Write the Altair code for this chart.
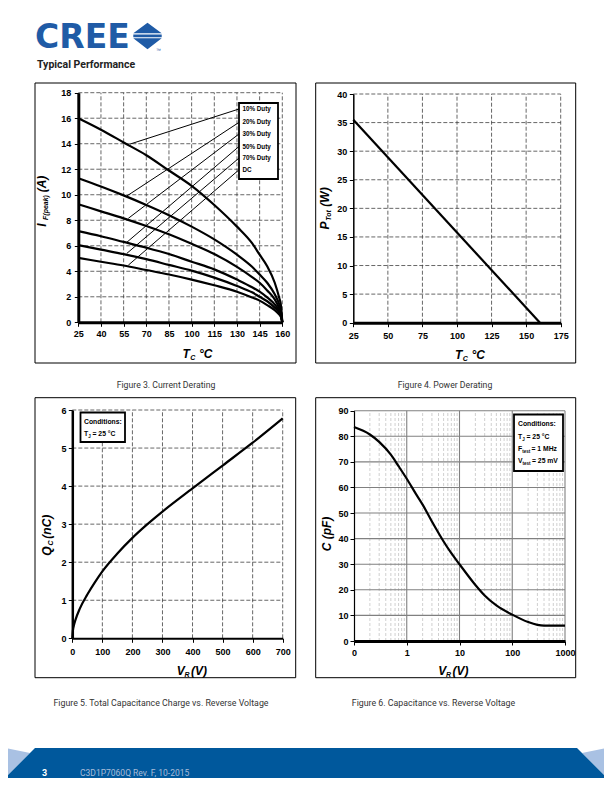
import altair as alt
import pandas as pd

# ---------------- data ----------------
# Figure 3: current derating
f3_tc = [25, 40, 55, 70, 85, 100, 115, 130, 140, 145, 150, 155, 158, 159, 160]
f3_i10 = [16.0, 15.1, 14.1, 13.1, 11.9, 10.7, 9.2, 7.5, 6.2, 5.3, 4.4, 3.1, 1.9, 1.4, 0.0]
f3_i20 = [11.3, 10.65, 9.95, 9.2, 8.4, 7.5, 6.5, 5.3, 4.35, 3.75, 3.1, 2.2, 1.4, 1.0, 0.0]
f3_i30 = [9.25, 8.7, 8.15, 7.55, 6.9, 6.15, 5.35, 4.35, 3.55, 3.1, 2.5, 1.8, 1.1, 0.8, 0.0]
f3_i50 = [7.15, 6.75, 6.3, 5.85, 5.35, 4.75, 4.15, 3.35, 2.75, 2.4, 1.95, 1.4, 0.9, 0.6, 0.0]
f3_i70 = [6.05, 5.7, 5.35, 4.95, 4.5, 4.05, 3.5, 2.85, 2.35, 2.0, 1.65, 1.15, 0.75, 0.5, 0.0]
f3_idc = [5.05, 4.75, 4.45, 4.1, 3.75, 3.35, 2.9, 2.4, 1.95, 1.7, 1.35, 0.95, 0.6, 0.45, 0.0]
f3_labels = ["10% Duty", "20% Duty", "30% Duty", "50% Duty", "70% Duty", "DC"]
f3_lead_t0 = [59.2, 57.1, 58.1, 57.1, 57.1, 58.1]
f3_lead_i0 = [13.97, 9.9, 8.15, 6.27, 5.4, 4.48]
f3_lead_t1 = 131.3
f3_lead_i1 = [16.72, 15.67, 14.76, 13.78, 12.87, 11.95]
f3_xticks = [25, 40, 55, 70, 85, 100, 115, 130, 145, 160]
f3_yticks = [0, 2, 4, 6, 8, 10, 12, 14, 16, 18]

# Figure 4: power derating
f4_tc = [25, 160]
f4_p = [35.5, 0.0]
f4_xticks = [25, 50, 75, 100, 125, 150, 175]
f4_yticks = [0, 5, 10, 15, 20, 25, 30, 35, 40]

# Figure 5: total capacitance charge
f5_vr = [0, 2, 5, 10, 25, 50, 75, 100, 150, 200, 250, 300, 400, 500, 600, 700]
f5_qc = [0, 0.2, 0.33, 0.47, 0.78, 1.15, 1.47, 1.76, 2.23, 2.64, 3.0, 3.33, 3.94, 4.54, 5.14, 5.78]
f5_xticks = [0, 100, 200, 300, 400, 500, 600, 700]
f5_yticks = [0, 1, 2, 3, 4, 5, 6]

# Figure 6: capacitance vs reverse voltage
f6_vr = [0.1, 0.2, 0.3, 0.5, 0.7, 1, 1.5, 2, 3, 5, 7, 10, 20, 30, 50, 100, 200, 300, 400, 600, 1000]
f6_c = [83.6, 80.7, 77.8, 72.8, 68.3, 63.4, 57.4, 53.3, 46.7, 38.9, 34.3, 30.0, 21.9, 17.8, 13.9,
        10.3, 7.4, 6.3, 6.0, 6.0, 6.0]
f6_xticks = [0.1, 1, 10, 100, 1000]
f6_minor = [0.2, 0.3, 0.4, 0.5, 0.6, 0.7, 0.8, 0.9, 2, 3, 4, 5, 6, 7, 8, 9,
            20, 30, 40, 50, 60, 70, 80, 90, 200, 300, 400, 500, 600, 700, 800, 900]
f6_yticks = [0, 10, 20, 30, 40, 50, 60, 70, 80, 90]

# ---------------- layout helpers ----------------
W, H = 596, 770
OFF = 8
LF = "Liberation Sans, Arial, sans-serif"
TF = "Liberation Sans, Arial, sans-serif"
CF = "Roboto, sans-serif"
BLUE = "#1f5ba6"
GRID = "#404040"

one = pd.DataFrame({"k": [0]})
layers = []


def px(v):
    return v - OFF


def txt(s, x, y, size=10, weight="normal", style="normal", align="left", angle=0,
        font=TF, color="black", baseline="alphabetic"):
    return alt.Chart(one).mark_text(
        text=s, fontSize=size, fontWeight=weight, fontStyle=style, align=align,
        angle=angle, font=font, color=color, baseline=baseline
    ).encode(x=alt.value(px(x)), y=alt.value(px(y)))


def box(x0, y0, x1, y1, sw=1.0, fill="white", fo=1.0):
    return alt.Chart(one).mark_rect(
        fill=fill, fillOpacity=fo, stroke="black", strokeWidth=sw
    ).encode(x=alt.value(px(x0)), x2=alt.value(px(x1)), y=alt.value(px(y0)), y2=alt.value(px(y1)))


def poly(path, color):
    return alt.Chart(one).mark_point(
        shape=path, size=4, filled=True, color=color, fill=color, fillOpacity=1,
        strokeWidth=0, opacity=1
    ).encode(x=alt.value(0), y=alt.value(0))


def lin(dom, a, b):
    return alt.Scale(type="linear", domain=dom, range=[px(a), px(b)], nice=False, zero=False)


def axis(orient, pos, values, dw, pad, fmt=None):
    kw = dict(orient=orient, values=values, grid=False, title=None, domainColor="black",
              domainWidth=dw, tickColor="black", tickSize=4, tickWidth=1, labelFont=LF,
              labelFontSize=9, labelFontWeight="bold", labelColor="black", labelPadding=pad,
              labelFlush=False, labelOverlap=False, zindex=1)
    if orient == "bottom":
        kw["offset"] = px(pos) - H
    else:
        kw["offset"] = -px(pos)
    if fmt:
        kw["format"] = fmt
    return alt.Axis(**kw)


def grid_df(xs, ys, xr, yr):
    rows = [dict(x=v, x2=v, y=yr[0], y2=yr[1]) for v in xs]
    rows += [dict(x=xr[0], x2=xr[1], y=v, y2=v) for v in ys]
    return pd.DataFrame(rows)


# ---------------- header ----------------
layers.append(txt("CREE", 35, 48.3, size=33, weight="bold", font="DejaVu Sans", color=BLUE))
layers.append(poly(
    "M125.3,25.3L153.7,25.3L139.5,14.7Z"
    "M125.3,26.4L153.7,26.4L153.7,29.2L125.3,29.2Z"
    "M125.3,30.3L153.7,30.3L139.5,41.3Z", BLUE))
layers.append(txt("\u2122", 156, 52, size=5, color=BLUE))
layers.append(txt("Typical Performance", 37, 68, size=10.5, weight="bold", font=CF, color="#222222"))

# ---------------- frames ----------------
layers.append(box(35, 83, 296, 363, sw=1, fo=0))
layers.append(box(315.7, 83, 575.7, 363, sw=1, fo=0))
layers.append(box(35, 397.7, 295.7, 677.7, sw=1, fo=0))
layers.append(box(315.7, 397.7, 575.7, 677.7, sw=1, fo=0))

# ---------------- Figure 3 ----------------
S1x = lin([25, 160], 78.3, 282.3)
S1y = lin([0, 18], 322.3, 92.7)
layers.append(alt.Chart(grid_df(f3_xticks[1:], f3_yticks[1:], [25, 160], [0, 18])).mark_rule(
    color=GRID, strokeWidth=0.8, strokeDash=[4, 2]).encode(
    x=alt.X("x:Q", scale=S1x, axis=axis("bottom", 322.3, f3_xticks, 3, 3.5)),
    x2="x2:Q",
    y=alt.Y("y:Q", scale=S1y, axis=axis("left", 78.3, f3_yticks, 3, 3.5)),
    y2="y2:Q"))
series = [f3_i10, f3_i20, f3_i30, f3_i50, f3_i70, f3_idc]
df3 = pd.DataFrame({
    "tc": [t for _ in series for t in f3_tc],
    "i": [v for s in series for v in s],
    "s": [lab for lab in f3_labels for _ in f3_tc],
})
layers.append(alt.Chart(df3).mark_line(color="black", strokeWidth=2.2, interpolate="monotone").encode(
    x=alt.X("tc:Q", scale=S1x, axis=None), y=alt.Y("i:Q", scale=S1y, axis=None), detail="s:N"))
lead = pd.DataFrame({"x": f3_lead_t0, "y": f3_lead_i0, "x2": [f3_lead_t1] * 6, "y2": f3_lead_i1})
layers.append(alt.Chart(lead).mark_rule(color="black", strokeWidth=1).encode(
    x=alt.X("x:Q", scale=S1x, axis=None), x2="x2:Q",
    y=alt.Y("y:Q", scale=S1y, axis=None), y2="y2:Q"))
layers.append(box(239, 103, 278, 179, sw=1.8))
leg = pd.DataFrame({"t": [133.6] * 6, "i": f3_lead_i1, "lab": f3_labels})
layers.append(alt.Chart(leg).mark_text(font=LF, fontSize=6.3, fontWeight="bold", align="left",
                                       baseline="middle", color="black").encode(
    x=alt.X("t:Q", scale=S1x, axis=None), y=alt.Y("i:Q", scale=S1y, axis=None), text="lab:N"))
# axis titles
layers.append(txt("T", 182.5, 357.5, size=12, weight="bold", style="italic"))
layers.append(txt("C", 190.3, 359.5, size=7, weight="bold", style="italic"))
layers.append(txt("\u00b0C", 199, 357.5, size=12, weight="bold", style="italic"))
layers.append(txt("I", 45.5, 225, size=12, weight="bold", style="italic", align="center", angle=270))
layers.append(txt("F(peak)", 47.5, 207.5, size=7, weight="bold", style="italic", align="center", angle=270))
layers.append(txt("(A)", 45.5, 184, size=12, weight="bold", style="italic", align="center", angle=270))
layers.append(txt("Figure 3. Current Derating", 166, 387.5, size=8.7, font=CF, color="#333333", align="center"))

# ---------------- Figure 4 ----------------
S2x = lin([25, 175], 353.3, 560.7)
S2y = lin([0, 40], 322.7, 94)
layers.append(alt.Chart(grid_df(f4_xticks[1:], f4_yticks[1:], [25, 175], [0, 40])).mark_rule(
    color=GRID, strokeWidth=0.8, strokeDash=[4, 2]).encode(
    x=alt.X("x:Q", scale=S2x, axis=axis("bottom", 322.7, f4_xticks, 3, 4.5)),
    x2="x2:Q",
    y=alt.Y("y:Q", scale=S2y, axis=axis("left", 353.3, f4_yticks, 1.5, 2.6)),
    y2="y2:Q"))
df4 = pd.DataFrame({"tc": f4_tc, "p": f4_p})
layers.append(alt.Chart(df4).mark_line(color="black", strokeWidth=2.2).encode(
    x=alt.X("tc:Q", scale=S2x, axis=None), y=alt.Y("p:Q", scale=S2y, axis=None)))
layers.append(txt("T", 455, 358.5, size=12, weight="bold", style="italic"))
layers.append(txt("C", 462.8, 360.5, size=7, weight="bold", style="italic"))
layers.append(txt("\u00b0C", 471.5, 358.5, size=12, weight="bold", style="italic"))
layers.append(txt("P", 329, 225.5, size=12, weight="bold", style="italic", align="center", angle=270))
layers.append(txt("Tot", 331, 215.5, size=7, weight="bold", style="italic", align="center", angle=270))
layers.append(txt("(W)", 329, 197, size=12, weight="bold", style="italic", align="center", angle=270))
layers.append(txt("Figure 4. Power Derating", 445, 387.5, size=8.7, font=CF, color="#333333", align="center"))

# ---------------- Figure 5 ----------------
S3x = lin([0, 700], 72.3, 282.7)
S3y = lin([0, 6], 638.3, 410)
layers.append(alt.Chart(grid_df(f5_xticks[1:], f5_yticks[1:], [0, 700], [0, 6])).mark_rule(
    color=GRID, strokeWidth=0.8, strokeDash=[4, 2]).encode(
    x=alt.X("x:Q", scale=S3x, axis=axis("bottom", 638.3, f5_xticks, 2, 5)),
    x2="x2:Q",
    y=alt.Y("y:Q", scale=S3y, axis=axis("left", 72.3, f5_yticks, 2.5, 2.3)),
    y2="y2:Q"))
df5 = pd.DataFrame({"vr": f5_vr, "qc": f5_qc})
layers.append(alt.Chart(df5).mark_line(color="black", strokeWidth=2.2, interpolate="monotone").encode(
    x=alt.X("vr:Q", scale=S3x, axis=None), y=alt.Y("qc:Q", scale=S3y, axis=None)))
layers.append(box(80.5, 412.5, 125, 442, sw=1.8))
layers.append(txt("Conditions:", 84, 424, size=6.8, weight="bold", font=LF))
layers.append(txt("T", 84, 436, size=6.8, weight="bold", font=LF))
layers.append(txt("J", 88.3, 437.5, size=4.5, weight="bold", font=LF))
layers.append(txt("= 25 \u00b0C", 92.5, 436, size=6.8, weight="bold", font=LF))
layers.append(txt("V", 176.7, 675, size=12, weight="bold", style="italic"))
layers.append(txt("R", 184.5, 677, size=7, weight="bold", style="italic"))
layers.append(txt("(V)", 191, 675, size=12, weight="bold", style="italic"))
layers.append(txt("Q", 50.7, 551, size=12, weight="bold", style="italic", align="center", angle=270))
layers.append(txt("C", 52.7, 543, size=7, weight="bold", style="italic", align="center", angle=270))
layers.append(txt("(nC)", 50.7, 526.7, size=12, weight="bold", style="italic", align="center", angle=270))
layers.append(txt("Figure 5. Total Capacitance Charge vs. Reverse Voltage", 161, 705.5, size=8.8,
                  font=CF, color="#333333", align="center"))

# ---------------- Figure 6 ----------------
S4x = alt.Scale(type="log", domain=[0.1, 1000], range=[px(354), px(565)], nice=False)
S4y = lin([0, 90], 641, 410.7)
minor = pd.DataFrame({"x": f6_minor, "y": [0] * len(f6_minor), "y2": [90] * len(f6_minor)})
layers.append(alt.Chart(minor).mark_rule(color="#c4c4c4", strokeWidth=0.8, strokeDash=[3, 2]).encode(
    x=alt.X("x:Q", scale=S4x, axis=None),
    y=alt.Y("y:Q", scale=S4y, axis=None), y2="y2:Q"))
layers.append(alt.Chart(grid_df(f6_xticks[1:], f6_yticks[1:], [0.1, 1000], [0, 90])).mark_rule(
    color="#808080", strokeWidth=1.1).encode(
    x=alt.X("x:Q", scale=S4x, axis=axis("bottom", 641, f6_xticks, 3, 3, fmt="d")),
    x2="x2:Q",
    y=alt.Y("y:Q", scale=S4y, axis=axis("left", 354, f6_yticks, 1.2, 2)),
    y2="y2:Q"))
df6 = pd.DataFrame({"vr": f6_vr, "c": f6_c})
layers.append(alt.Chart(df6).mark_line(color="black", strokeWidth=2.2, interpolate="monotone").encode(
    x=alt.X("vr:Q", scale=S4x, axis=None), y=alt.Y("c:Q", scale=S4y, axis=None)))
layers.append(box(514, 414.5, 563, 471, sw=1.8))
layers.append(txt("Conditions:", 518, 426, size=6.8, weight="bold", font=LF))
layers.append(txt("T", 518, 439, size=6.8, weight="bold", font=LF))
layers.append(txt("J", 522.3, 440.5, size=4.5, weight="bold", font=LF))
layers.append(txt("= 25 \u00b0C", 526.5, 439, size=6.8, weight="bold", font=LF))
layers.append(txt("F", 518, 451, size=6.8, weight="bold", font=LF))
layers.append(txt("test", 522.2, 452.5, size=4.5, weight="bold", font=LF))
layers.append(txt("= 1 MHz", 531.5, 451, size=6.8, weight="bold", font=LF))
layers.append(txt("V", 518, 463, size=6.8, weight="bold", font=LF))
layers.append(txt("test", 522.5, 464.5, size=4.5, weight="bold", font=LF))
layers.append(txt("= 25 mV", 532, 463, size=6.8, weight="bold", font=LF))
layers.append(txt("V", 438.3, 675, size=12, weight="bold", style="italic"))
layers.append(txt("R", 446, 677, size=7, weight="bold", style="italic"))
layers.append(txt("(V)", 452.5, 675, size=12, weight="bold", style="italic"))
layers.append(txt("C (pF)", 330.7, 534, size=12, weight="bold", style="italic", align="center", angle=270))
layers.append(txt("Figure 6. Capacitance vs. Reverse Voltage", 433.5, 705.5, size=8.8,
                  font=CF, color="#333333", align="center"))

# ---------------- footer ----------------
layers.append(poly("M-8,739L22,745L-8,775Z", "#a9c1e3"))
layers.append(poly("M604,739L574,745L604,775Z", "#a9c1e3"))
layers.append(poly("M27,740L569,740L604,775L604,790L-8,790L-8,775Z", "#00589c"))
layers.append(txt("3", 42, 775.5, size=9, weight="bold", font=CF, color="white"))
layers.append(txt("C3D1P7060Q Rev. F, 10-2015", 80, 775.5, size=8.5, font=CF, color="#a9bcd8"))

chart = alt.layer(*layers).resolve_scale(
    x="independent", y="independent"
).properties(
    width=W, height=H, autosize=alt.AutoSizeParams(type="none"), padding=0, background="white"
).configure_view(stroke=None)

chart.save("out.html", embed_options={"renderer": "svg", "actions": False})
